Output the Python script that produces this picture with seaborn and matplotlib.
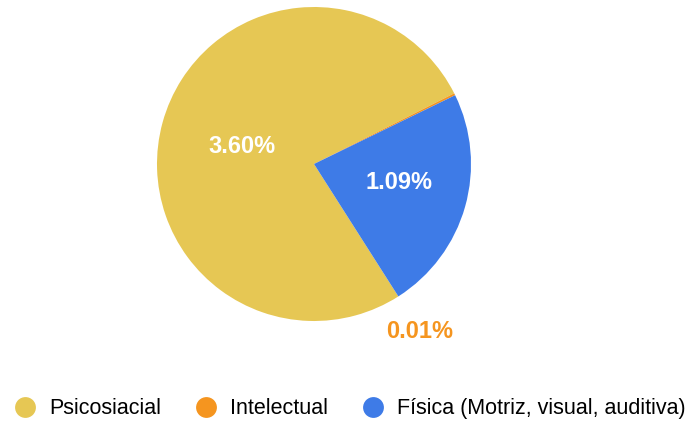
import matplotlib
matplotlib.use("Agg")
import matplotlib.pyplot as plt
from matplotlib.lines import Line2D
import seaborn as sns

categories = ['Psicosiacial', 'Intelectual', 'Física (Motriz, visual, auditiva)']
values = [3.60, 0.01, 1.09]
colors = ['#E6C754', '#F5951F', '#3E7BE7']

sns.set_theme(style='white')
plt.rcParams['font.family'] = ['Liberation Sans', 'DejaVu Sans']

total = sum(values)

fig = plt.figure(figsize=(6.93, 4.22), dpi=100)
# square axes holding the pie (center ~ (314,164) px, radius ~157 px)
ax = fig.add_axes([157 / 693, (422 - 164 - 157) / 422, 314 / 693, 314 / 422])

wedges, texts, autotexts = ax.pie(
    values,
    colors=colors,
    startangle=-57.5,
    counterclock=False,
    radius=1.0,
    autopct=lambda p: f'{p * total / 100:.2f}%',
    pctdistance=0.5,
    wedgeprops=dict(linewidth=0),
    textprops=dict(color='white', fontsize=17, fontweight='bold'),
)
ax.set_xlim(-1, 1)
ax.set_ylim(-1, 1)
ax.set_aspect('equal')

# small slice label sits outside, below the blue wedge
autotexts[1].set_position((0.67, -1.065))
autotexts[1].set_color(colors[1])
autotexts[0].set_position((-0.46, 0.11))
autotexts[2].set_position((0.54, -0.12))

handles = [Line2D([0], [0], marker='o', linestyle='', markersize=15,
                  markerfacecolor=c, markeredgewidth=0) for c in colors]
leg = fig.legend(handles, categories, loc='center', bbox_to_anchor=(0.505, 0.031),
                 ncol=3, frameon=False, fontsize=15.5, handletextpad=0.6,
                 columnspacing=1.6, handlelength=1.0)
for t in leg.get_texts():
    t.set_color('black')

fig.savefig('out.png', dpi=100)
